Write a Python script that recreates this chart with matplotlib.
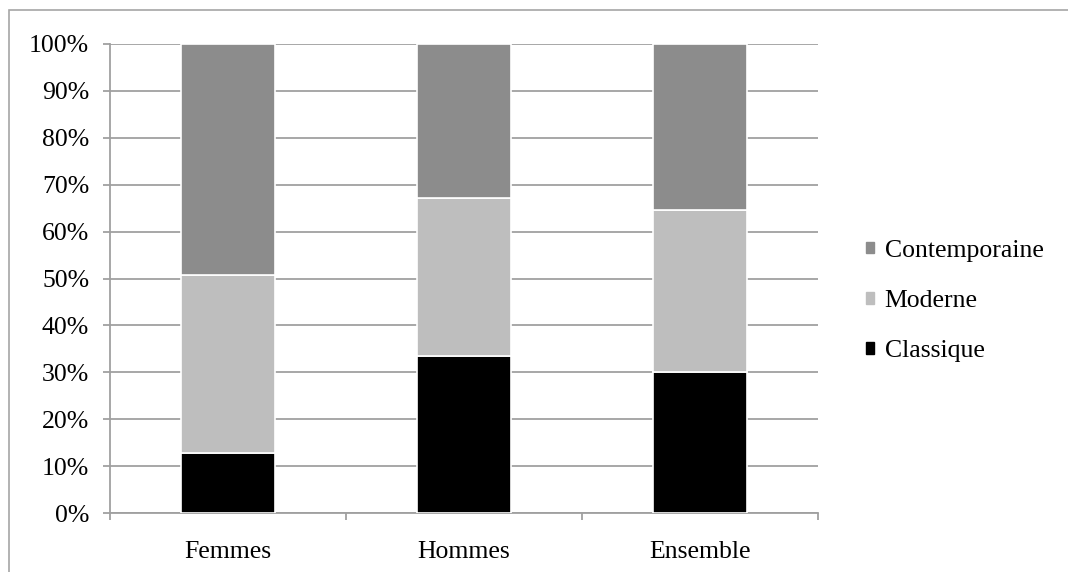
import matplotlib.pyplot as plt
from matplotlib.patches import Rectangle, Patch

# Données (en %)
groupes = ['Femmes', 'Hommes', 'Ensemble']
classique = [12.8, 33.5, 30.1]
moderne = [37.9, 33.6, 34.4]
contemporaine = [49.3, 32.9, 35.5]

plt.rcParams['font.family'] = ['Liberation Serif', 'DejaVu Serif']

fig = plt.figure(figsize=(10.68, 5.72), dpi=100)
W, H = 1068, 572
ax = fig.add_axes([110 / W, 1 - 513 / H, 708 / W, 469 / H])

# Cadre extérieur du graphique
fig.patches.append(Rectangle((9 / W, -0.1), 1.2, 1 - 10 / H + 0.1,
                             transform=fig.transFigure, fill=False,
                             edgecolor='#a6a6a6', linewidth=1.2))

x = range(len(groupes))
largeur = 0.395
bas2 = [a + b for a, b in zip(classique, moderne)]
ax.bar(x, classique, largeur, color='black', edgecolor='white', linewidth=1.2, zorder=3)
ax.bar(x, moderne, largeur, bottom=classique, color='#bebebe', edgecolor='white', linewidth=1.2, zorder=3)
ax.bar(x, contemporaine, largeur, bottom=bas2, color='#8c8c8c', edgecolor='white', linewidth=1.2, zorder=3)

ax.set_xlim(-0.5, 2.5)
ax.set_ylim(0, 100)
ax.set_yticks(range(0, 101, 10))
ax.set_yticklabels([f'{v}%' for v in range(0, 101, 10)])
ax.yaxis.grid(True, color='#a0a0a0', linewidth=1.3, zorder=0)

ax.set_xticks(x)
ax.set_xticklabels(groupes)
ax.set_xticks([-0.5, 0.5, 1.5, 2.5], minor=True)
ax.tick_params(axis='x', which='major', length=0, pad=20, labelsize=18.5)
ax.tick_params(axis='x', which='minor', length=5, color='#a0a0a0', width=1.3)
ax.tick_params(axis='y', length=5, color='#a0a0a0', width=1.3, labelsize=18.5, pad=10)

for s in ['top', 'right']:
    ax.spines[s].set_visible(False)
for s in ['left', 'bottom']:
    ax.spines[s].set_color('#a0a0a0')
    ax.spines[s].set_linewidth(1.3)

poignees = [Patch(color='#8c8c8c', label='Contemporaine'),
            Patch(color='#bebebe', label='Moderne'),
            Patch(color='black', label='Classique')]
fig.legend(handles=poignees, loc='center left', bbox_to_anchor=(866 / W, 1 - 301 / H),
           frameon=False, fontsize=18.5, handlelength=0.32, handleheight=0.32,
           handletextpad=0.4, labelspacing=1.1, borderpad=0, borderaxespad=0)

fig.savefig('out.png', dpi=100)
